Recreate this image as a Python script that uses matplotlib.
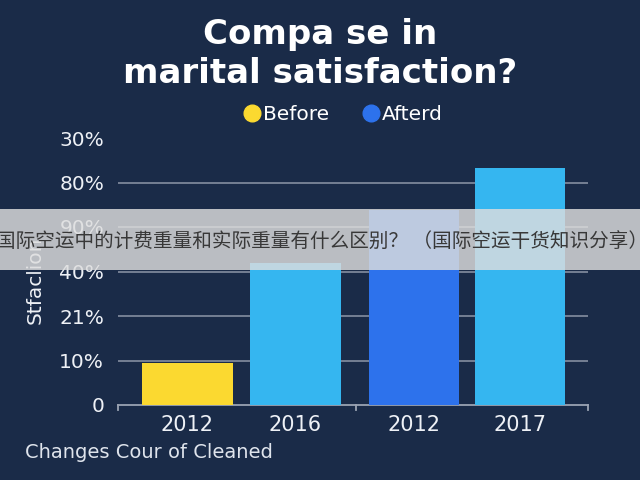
import matplotlib
matplotlib.use('Agg')
import matplotlib.pyplot as plt
from matplotlib.lines import Line2D
from matplotlib.patches import Rectangle

# data (values are in tick-step units)
categories = ['2012', '2016', '2012', '2017']
values = [0.94, 3.19, 4.38, 5.33]
bar_colors = ['#fbd930', '#35b6f0', '#2d72ec', '#35b6f0']
ytick_labels = ['0', '10%', '21%', '40%', '90%', '80%', '30%']
legend_labels = ['Before', 'Afterd']
legend_colors = ['#fbd930', '#2d72ec']
title = 'Compa se in\nmarital satisfaction?'
xlabel = 'Changes Cour of Cleaned'
ylabel = 'Stfaclion'
banner = '国际空运中的计费重量和实际重量有什么区别？ （国际空运干货知识分享）'

BG = '#1a2b48'
TXT = '#eef1f6'
FONT = 'DejaVu Sans'

# layout
x_pos = [0, 1, 2.1, 3.08]
bar_w = 0.84

fig = plt.figure(figsize=(6.4, 4.8), dpi=100, facecolor=BG)
ax = fig.add_axes([118 / 640, 1 - 405 / 480, 470 / 640, 267 / 480])
ax.set_facecolor(BG)

ax.bar(x_pos, values, width=bar_w, color=bar_colors, zorder=3)

for y in range(1, len(ytick_labels) - 1):
    ax.axhline(y, color='#8d97a8', lw=1.1, zorder=1)

ax.set_xlim(-0.64, 3.71)
ax.set_ylim(0, len(ytick_labels) - 1)
ax.set_yticks(range(len(ytick_labels)))
ax.set_yticklabels(ytick_labels, color=TXT, fontsize=14.5, fontfamily=FONT)
ax.set_xticks(x_pos)
ax.set_xticklabels(categories, color=TXT, fontsize=15, fontfamily=FONT)
ax.tick_params(axis='both', length=0, pad=7)
ax.tick_params(axis='y', pad=10)
for s in ['top', 'right', 'left']:
    ax.spines[s].set_visible(False)
ax.spines['bottom'].set_color('#9aa3b3')
ax.spines['bottom'].set_linewidth(1.3)
# small group separator ticks on the base line
for xt in [-0.64, 1.565, 3.71]:
    ax.plot([xt, xt], [0, -0.12], color='#9aa3b3', lw=1.3, clip_on=False)

fig.text(0.5, 0.888, title, ha='center', va='center', color='white',
         fontsize=24.5, fontweight='bold', fontfamily=FONT, linespacing=1.25)

handles = [Line2D([], [], marker='o', ls='', markersize=12, color=c) for c in legend_colors]
fig.legend(handles, legend_labels, loc='center', bbox_to_anchor=(0.535, 0.762), ncol=2,
           frameon=False, handletextpad=0.05, columnspacing=1.6, handlelength=1.0,
           prop={'family': FONT, 'size': 14.5}, labelcolor='white')

fig.text(25 / 640, 1 - 453 / 480, xlabel, ha='left', va='center', color='#dfe4ec',
         fontsize=14, fontfamily=FONT)
fig.text(35 / 640, 1 - 280 / 480, ylabel, ha='center', va='center', color=TXT,
         fontsize=14.5, fontfamily=FONT, rotation=90)

# overlay banner
fig.patches.append(Rectangle((0, 1 - 270 / 480), 1, 61 / 480, transform=fig.transFigure,
                             facecolor='#dedede', alpha=0.82, zorder=5))
fig.text(-4 / 640, 1 - 241 / 480, banner, ha='left', va='center', color='#383838',
         fontsize=14.1, family=['Noto Sans CJK SC', 'DejaVu Sans'], zorder=6)

fig.savefig('out.png', dpi=100, facecolor=BG)
